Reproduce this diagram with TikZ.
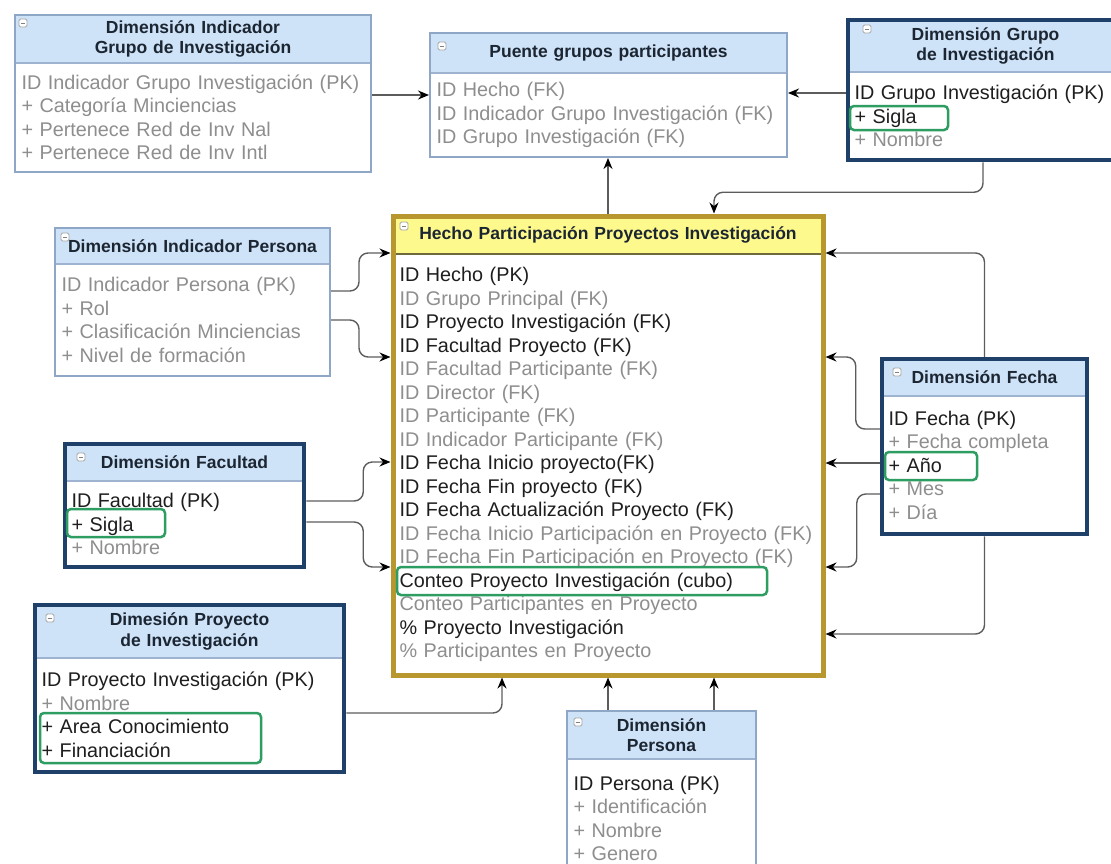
\documentclass[tikz,border=0pt]{standalone}
\usepackage{fontspec}
\setmainfont{Liberation Sans}
\usetikzlibrary{positioning,arrows.meta,fit,calc}
\definecolor{hdrC}{HTML}{CFE3F8}
\definecolor{factHdrC}{HTML}{FDF98C}
\definecolor{lightC}{HTML}{8FA7C6}
\definecolor{darkC}{HTML}{1F4068}
\definecolor{factC}{HTML}{B8982E}
\definecolor{sepC}{HTML}{9DB3CF}
\definecolor{factSepC}{HTML}{6E6A3C}
\definecolor{titleC}{HTML}{1C2633}
\definecolor{keyC}{HTML}{1E1E1E}
\definecolor{attrC}{HTML}{8E8E8E}
\definecolor{markC}{HTML}{2E9D62}
\definecolor{wireC}{HTML}{5C5C5C}
\newcommand{\kf}[1]{\textcolor{keyC}{#1}}

\begin{document}
\begin{tikzpicture}[
  x=1pt, y=-1pt,
  >={Stealth[length=11pt,width=9pt,color=black]},
  hdr/.style={fill=#1, draw=sepC, line width=1pt, anchor=north west,
              inner xsep=6pt, inner ysep=1pt, align=center, text=titleC,
              font=\fontsize{17.5}{20.5}\selectfont\bfseries},
  hdr/.default=hdrC,
  tbody/.style={fill=white, draw=sepC, line width=1pt, anchor=north west,
                inner xsep=6pt, inner ysep=1pt, align=left, text=attrC,
                font=\fontsize{19.8}{23.5}\selectfont},
  frameL/.style={draw=lightC, line width=2pt, inner sep=0pt},
  frameD/.style={draw=darkC, line width=4.5pt, inner sep=0pt},
  frameF/.style={draw=factC, line width=5pt, inner sep=0pt},
  tog/.style={draw=gray!70, fill=white, minimum size=8pt, inner sep=0pt,
              rounded corners=1.5pt, line width=0.8pt,
              path picture={\draw[gray, line width=1pt]
                ([xshift=2pt]path picture bounding box.west) --
                ([xshift=-2pt]path picture bounding box.east);}},
  hilite/.style={draw=markC, line width=2.5pt, rounded corners=4pt},
  fk/.style={draw=wireC, line width=1.4pt, rounded corners=9pt, ->},
]
\useasboundingbox (0,0) rectangle (1111,863);

% ── Dimensión Indicador Grupo de Investigación ──
\node[hdr, text width=343pt, minimum height=47pt] (digH) at (15,15)
  {Dimensión Indicador\\Grupo de Investigación};
\node[tbody, text width=343pt, minimum height=108pt] (digB) at (digH.south west)
  {ID Indicador Grupo Investigación (PK)\\+ Categoría Minciencias\\
   + Pertenece Red de Inv Nal\\+ Pertenece Red de Inv Intl};
\node[frameL, fit=(digH)(digB)] (dig) {};
\node[tog] (digT) at ([shift={(8,8)}]digH.north west) {};

% ── Puente grupos participantes ──
\node[hdr, text width=344pt, minimum height=39pt] (pgpH) at (430,33)
  {Puente grupos participantes};
\node[tbody, text width=344pt, minimum height=83pt] (pgpB) at (pgpH.south west)
  {ID Hecho (FK)\\ID Indicador Grupo Investigación (FK)\\ID Grupo Investigación (FK)};
\node[frameL, fit=(pgpH)(pgpB)] (pgp) {};
\node[tog] (pgpT) at ([shift={(12,13)}]pgpH.north west) {};

% ── Dimensión Grupo de Investigación ──
\node[hdr, text width=262pt, minimum height=51pt] (dgiH) at (848,20)
  {Dimensión Grupo\\de Investigación};
\node[tbody, text width=262pt, minimum height=87pt] (dgiB) at (dgiH.south west)
  {\kf{ID Grupo Investigación (PK)}\\\kf{+ Sigla}\\+ Nombre};
\node[frameD, fit=(dgiH)(dgiB)] (dgi) {};
\node[tog] (dgiT) at ([shift={(19,9)}]dgiH.north west) {};

% ── Dimensión Indicador Persona ──
\node[hdr, text width=262pt, minimum height=35pt] (dipH) at (55,228)
  {Dimensión Indicador Persona};
\node[tbody, text width=262pt, minimum height=111pt] (dipB) at (dipH.south west)
  {ID Indicador Persona (PK)\\+ Rol\\+ Clasificación Minciencias\\+ Nivel de formación};
\node[frameL, fit=(dipH)(dipB)] (dip) {};
\node[tog] (dipT) at ([shift={(10,9)}]dipH.north west) {};

% ── Hecho Participación Proyectos Investigación ──
\node[hdr=factHdrC, draw=factSepC, text width=417pt, minimum height=37pt] (factH) at (393,216)
  {Hecho Participación Proyectos Investigación};
\node[tbody, draw=factSepC, text width=417pt, minimum height=420pt] (factB) at (factH.south west)
  {\kf{ID Hecho (PK)}\\ID Grupo Principal (FK)\\\kf{ID Proyecto Investigación (FK)}\\
   \kf{ID Facultad Proyecto (FK)}\\ID Facultad Participante (FK)\\ID Director (FK)\\
   ID Participante (FK)\\ID Indicador Participante (FK)\\\kf{ID Fecha Inicio proyecto(FK)}\\
   \kf{ID Fecha Fin proyecto (FK)}\\\kf{ID Fecha Actualización Proyecto (FK)}\\
   ID Fecha Inicio Participación en Proyecto (FK)\\ID Fecha Fin Participación en Proyecto (FK)\\
   \kf{Conteo Proyecto Investigación (cubo)}\\Conteo Participantes en Proyecto\\
   \kf{\% Proyecto Investigación}\\\% Participantes en Proyecto};
\node[frameF, fit=(factH)(factB)] (fact) {};
\node[tog] (factT) at ([shift={(11,10)}]factH.north west) {};
\coordinate (fT) at ([xshift=106]fact.north);
\coordinate (fL) at ([xshift=-106]fact.south);
\coordinate (fR) at ([xshift=106]fact.south);

% ── Dimensión Fecha ──
\node[hdr, text width=192pt, minimum height=36pt] (dfeH) at (882,359)
  {Dimensión Fecha};
\node[tbody, text width=192pt, minimum height=137pt] (dfeB) at (dfeH.south west)
  {\kf{ID Fecha (PK)}\\+ Fecha completa\\\kf{+ Año}\\+ Mes\\+ Día};
\node[frameD, fit=(dfeH)(dfeB)] (dfe) {};
\node[tog] (dfeT) at ([shift={(15,13)}]dfeH.north west) {};

% ── Dimensión Facultad ──
\node[hdr, text width=226pt, minimum height=36pt] (dfaH) at (65,444)
  {Dimensión Facultad};
\node[tbody, text width=226pt, minimum height=85pt] (dfaB) at (dfaH.south west)
  {\kf{ID Facultad (PK)}\\\kf{+ Sigla}\\+ Nombre};
\node[frameD, fit=(dfaH)(dfaB)] (dfa) {};
\node[tog] (dfaT) at ([shift={(16,13)}]dfaH.north west) {};

% ── Dimesión Proyecto de Investigación ──
\node[hdr, text width=296pt, minimum height=52pt] (dpiH) at (35,605)
  {Dimesión Proyecto\\de Investigación};
\node[tbody, text width=296pt, minimum height=113pt] (dpiB) at (dpiH.south west)
  {\kf{ID Proyecto Investigación (PK)}\\+ Nombre\\\kf{+ Area Conocimiento}\\\kf{+ Financiación}};
\node[frameD, fit=(dpiH)(dpiB)] (dpi) {};
\node[tog] (dpiT) at ([shift={(15,13)}]dpiH.north west) {};

% ── Dimensión Persona ──
\node[hdr, text width=176pt, minimum height=47pt] (dpeH) at (567,711)
  {Dimensión\\Persona};
\node[tbody, text width=176pt, minimum height=118pt] (dpeB) at (dpeH.south west)
  {\kf{ID Persona (PK)}\\+ Identificación\\+ Nombre\\+ Genero};
\node[frameL, fit=(dpeH)(dpeB)] (dpe) {};
\node[tog] (dpeT) at ([shift={(11,11)}]dpeH.north west) {};

% ── Highlighted attributes ──
\draw[hilite] (850,106) rectangle (948,130);
\draw[hilite] (397,567) rectangle (767,595);
\draw[hilite] (885,452) rectangle (977,480);
\draw[hilite] (67,509) rectangle (165,537);
\draw[hilite] (40,713) rectangle (261,763);

% ── Bridge table links ──
\draw[fk] (dig.east |- 0,95) -- (pgp.west |- 0,95);
\draw[fk] (dgi.west |- 0,93) -- (pgp.east |- 0,93);
\draw[fk] (fact.north) -- (fact.north |- pgp.south);
\draw[fk] (dgi.south -| 983,0) -- ++(0,30) -| (fT);

% ── Left dimensions into the fact table ──
\draw[fk] (dip.east |- 0,291) -- ++(28,0) |- (fact.west |- 0,253);
\draw[fk] (dip.east |- 0,320) -- ++(28,0) |- (fact.west |- 0,357);
\draw[fk] (dfa.east |- 0,501) -- ++(57,0) |- (fact.west |- 0,462);
\draw[fk] (dfa.east |- 0,522) -- ++(57,0) |- (fact.west |- 0,567);
\draw[fk] (dpi.east |- 0,713) -| (fL);

% ── Persona into the fact table ──
\draw[fk] (fact.south |- dpe.north) -- (fact.south);
\draw[fk] (fR |- dpe.north) -- (fR);

% ── Fecha into the fact table ──
\draw[fk] (dfe.north) |- (fact.east |- 0,253);
\draw[fk] (dfe.west |- 0,429) -- ++(-24,0) |- (fact.east |- 0,357);
\draw[fk] (dfe.west |- 0,463) -- (fact.east |- 0,463);
\draw[fk] (dfe.west |- 0,494) -- ++(-23,0) |- (fact.east |- 0,567);
\draw[fk] (dfe.south) |- (fact.east |- 0,634);

\end{tikzpicture}
\end{document}
